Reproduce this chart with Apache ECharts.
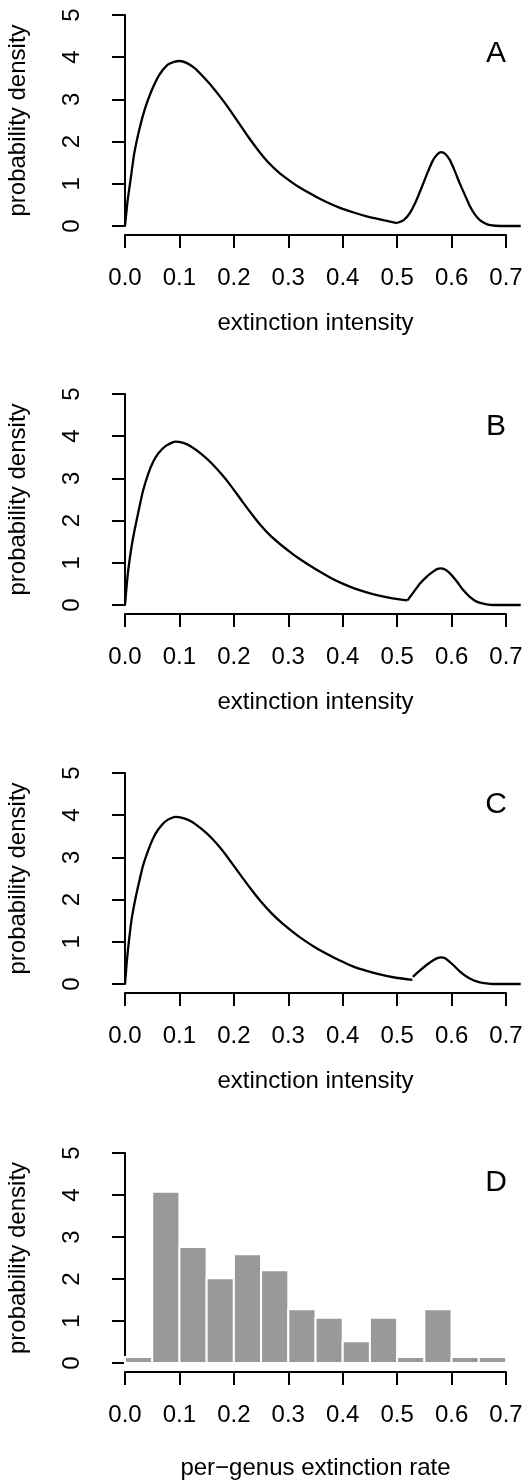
<!DOCTYPE html>
<html>
<head>
<meta charset="utf-8">
<script src="https://cdn.jsdelivr.net/npm/echarts@6/dist/echarts.min.js"></script>
<style>
  html, body { margin: 0; padding: 0; background: #fff; }
  #chart { width: 523px; height: 1481px; }
</style>
</head>
<body>
<div id="chart"></div>
<script>
// x ticks / y ticks shared by all four panels
const xTicks = [0, 0.1, 0.2, 0.3, 0.4, 0.5, 0.6, 0.7];
const yTicks = [0, 1, 2, 3, 4, 5];
const panelLetters = ['A', 'B', 'C', 'D'];

// panel A density, split at the kink near 0.5
const curveA1 = [
    [0, 0], [0.005, 0.62], [0.011, 1.17], [0.017, 1.72], [0.026, 2.27], [0.036, 2.75],
    [0.048, 3.18], [0.063, 3.58], [0.078, 3.82], [0.09, 3.89], [0.1, 3.91], [0.114, 3.86],
    [0.128, 3.74], [0.142, 3.56], [0.159, 3.32], [0.175, 3.06], [0.19, 2.8], [0.208, 2.46],
    [0.226, 2.12], [0.245, 1.79], [0.263, 1.51], [0.285, 1.24], [0.306, 1.04], [0.321, 0.91],
    [0.35, 0.7], [0.37, 0.57], [0.395, 0.43], [0.42, 0.32], [0.444, 0.23], [0.475, 0.14],
    [0.5, 0.07]
];
const curveA2 = [
    [0.5, 0.07], [0.512, 0.14], [0.523, 0.3], [0.535, 0.6], [0.548, 1.01], [0.557, 1.3],
    [0.566, 1.56], [0.574, 1.7], [0.581, 1.75], [0.589, 1.7], [0.597, 1.56], [0.606, 1.3],
    [0.615, 1.01], [0.625, 0.72], [0.634, 0.46], [0.643, 0.27], [0.652, 0.14], [0.662, 0.06],
    [0.671, 0.02], [0.69, 0], [0.727, 0]
];

// panel B
const curveB1 = [
    [0, 0], [0.003, 0.45], [0.006, 0.83], [0.012, 1.38], [0.018, 1.8], [0.024, 2.17], [0.033, 2.7],
    [0.043, 3.12], [0.052, 3.4], [0.061, 3.59], [0.075, 3.77], [0.092, 3.87], [0.107, 3.84],
    [0.122, 3.75], [0.14, 3.58], [0.159, 3.36], [0.178, 3.09], [0.196, 2.8], [0.214, 2.48],
    [0.232, 2.17], [0.25, 1.88], [0.269, 1.62], [0.288, 1.41], [0.306, 1.23], [0.321, 1.09],
    [0.349, 0.86], [0.38, 0.63], [0.401, 0.5], [0.42, 0.4], [0.444, 0.3], [0.465, 0.23],
    [0.487, 0.17], [0.519, 0.11]
];
const curveB2 = [
    [0.519, 0.11], [0.53, 0.3], [0.542, 0.51], [0.555, 0.68], [0.566, 0.79], [0.573, 0.85],
    [0.58, 0.87], [0.588, 0.84], [0.597, 0.75], [0.609, 0.57], [0.621, 0.36], [0.633, 0.2],
    [0.646, 0.08], [0.658, 0.03], [0.671, 0.005], [0.69, 0], [0.727, 0]
];

// panel C (small jump at ~0.53)
const curveC1 = [
    [0, 0], [0.003, 0.48], [0.006, 0.88], [0.012, 1.52], [0.018, 1.95], [0.024, 2.31], [0.033, 2.8],
    [0.043, 3.18], [0.052, 3.46], [0.061, 3.66], [0.075, 3.86], [0.092, 3.96], [0.107, 3.93],
    [0.122, 3.85], [0.14, 3.68], [0.159, 3.46], [0.178, 3.18], [0.196, 2.87], [0.214, 2.55],
    [0.232, 2.24], [0.25, 1.95], [0.269, 1.68], [0.288, 1.45], [0.306, 1.26], [0.321, 1.11],
    [0.349, 0.87], [0.38, 0.65], [0.401, 0.52], [0.42, 0.41], [0.444, 0.31], [0.47, 0.22],
    [0.493, 0.16], [0.528, 0.1]
];
const curveC2 = [
    [0.529, 0.17], [0.541, 0.31], [0.554, 0.45], [0.567, 0.57], [0.575, 0.62], [0.58, 0.63],
    [0.588, 0.61], [0.603, 0.45], [0.615, 0.3], [0.628, 0.17], [0.64, 0.09], [0.652, 0.04],
    [0.664, 0.015], [0.676, 0], [0.727, 0]
];

// panel D histogram
const binEdges = [0, 0.05, 0.1, 0.15, 0.2, 0.25, 0.3, 0.35, 0.4, 0.45, 0.5, 0.55, 0.6, 0.65, 0.7];
const histValues = [0.14, 4.08, 2.76, 2.02, 2.59, 2.21, 1.28, 1.08, 0.52, 1.08, 0.14, 1.28, 0.14, 0.14];

const FONT = '"Liberation Sans", Arial, Helvetica, sans-serif';
const gridTops = [15, 394, 773, 1153];
const gridHeights = [211, 211, 211, 210];
const xNames = ['extinction intensity', 'extinction intensity', 'extinction intensity', 'per\u2212genus extinction rate'];
const letterY = [54, 427, 805, 1183];
const X_MAX_DATA = 0.73; // density curves run a bit past the last tick

const chart = echarts.init(document.getElementById('chart'), null, { renderer: 'canvas' });

// grids 0-3: visible axes (0..0.7); grids 4-7: same scale, wider, for the curves
const axisGrids = gridTops.map((t, i) => ({
    left: 125, width: 381, top: t, height: gridHeights[i],
    outerBoundsMode: 'none', containLabel: false
}));
const dataGrids = gridTops.map((t, i) => ({
    left: 125, width: 381 * X_MAX_DATA / 0.7, top: t, height: gridHeights[i],
    outerBoundsMode: 'none', containLabel: false
}));

const axisLineStyle = { color: '#000', width: 2 };

const xAxes = gridTops.map((t, i) => ({
    gridIndex: i,
    type: 'value',
    min: xTicks[0], max: xTicks[xTicks.length - 1], interval: 0.1,
    offset: 9,
    axisLine: { show: true, onZero: false, lineStyle: axisLineStyle },
    axisTick: { show: true, length: 13, lineStyle: axisLineStyle },
    axisLabel: {
        margin: 31, color: '#000', fontSize: 24, fontFamily: FONT,
        showMinLabel: true, showMaxLabel: true, hideOverlap: false,
        formatter: v => v.toFixed(1)
    },
    splitLine: { show: false },
    name: xNames[i],
    nameLocation: 'middle',
    nameGap: i === 3 ? 84 : 76,
    nameTextStyle: { color: '#000', fontSize: 24, fontFamily: FONT }
})).concat(gridTops.map((t, i) => ({
    gridIndex: 4 + i, type: 'value', min: 0, max: X_MAX_DATA, show: false
})));

const yAxes = gridTops.map((t, i) => ({
    gridIndex: i,
    type: 'value',
    min: yTicks[0], max: yTicks[yTicks.length - 1], interval: 1,
    offset: 15,
    axisLine: { show: true, lineStyle: axisLineStyle },
    axisTick: { show: true, length: 13, lineStyle: axisLineStyle },
    axisLabel: {
        rotate: 90, margin: 26, color: '#000', fontSize: 24, fontFamily: FONT,
        showMinLabel: true, showMaxLabel: true, hideOverlap: false
    },
    splitLine: { show: false },
    name: 'probability density',
    nameLocation: 'middle',
    nameRotate: 90,
    nameGap: 80,
    nameTextStyle: { color: '#000', fontSize: 24, fontFamily: FONT }
})).concat(gridTops.map((t, i) => ({
    gridIndex: 4 + i, type: 'value', min: yTicks[0], max: yTicks[yTicks.length - 1], show: false
})));

const lineSeries = (data, idx) => ({
    type: 'line',
    xAxisIndex: 4 + idx, yAxisIndex: 4 + idx,
    data: data,
    showSymbol: false,
    symbol: 'none',
    smooth: 0.2,
    clip: false,
    silent: true,
    lineStyle: { color: '#000', width: 2.3 }
});

const histSeries = {
    type: 'custom',
    xAxisIndex: 3, yAxisIndex: 3,
    data: histValues.map((v, k) => [binEdges[k], binEdges[k + 1], v]),
    renderItem: function (params, api) {
        const p0 = api.coord([api.value(0), api.value(2)]);
        const p1 = api.coord([api.value(1), 0]);
        return {
            type: 'rect',
            shape: { x: p0[0], y: p0[1], width: p1[0] - p0[0], height: p1[1] - p0[1] },
            style: { fill: '#999999', stroke: '#ffffff', lineWidth: 2 }
        };
    },
    silent: true
};

const letters = panelLetters.map((l, i) => ({
    type: 'text',
    x: 496, y: letterY[i],
    style: {
        text: l, fill: '#000', font: '30px ' + FONT,
        align: 'center', verticalAlign: 'middle'
    },
    silent: true
}));

chart.setOption({
    animation: false,
    backgroundColor: '#fff',
    grid: axisGrids.concat(dataGrids),
    xAxis: xAxes,
    yAxis: yAxes,
    series: [
        lineSeries(curveA1, 0), lineSeries(curveA2, 0),
        lineSeries(curveB1, 1), lineSeries(curveB2, 1),
        lineSeries(curveC1, 2), lineSeries(curveC2, 2),
        histSeries
    ],
    graphic: letters
});
</script>
</body>
</html>
